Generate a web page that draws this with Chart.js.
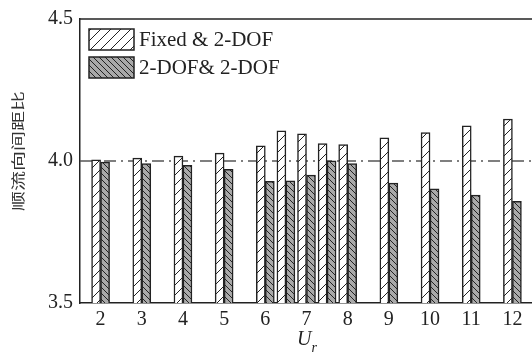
<!DOCTYPE html>
<html><head><meta charset="utf-8">
<script src="https://cdn.jsdelivr.net/npm/chart.js@4.4.0/dist/chart.umd.min.js"></script>
<style>
html,body{margin:0;padding:0;background:#fff;overflow:hidden;}
#wrap{width:540px;height:358px;position:relative;}
</style></head><body>
<div id="wrap"><canvas id="c" width="540" height="358"></canvas></div>
<script>
const ur = [2, 3, 4, 5, 6, 6.5, 7, 7.5, 8, 9, 10, 11, 12];
const fixedVals = [4.004, 4.010, 4.017, 4.028, 4.053, 4.106, 4.096, 4.061, 4.058, 4.082, 4.100, 4.124, 4.148];
const dofVals = [3.996, 3.991, 3.985, 3.971, 3.928, 3.930, 3.950, 4.001, 3.991, 3.922, 3.902, 3.880, 3.858];
const seriesLabels = ['Fixed & 2-DOF', '2-DOF& 2-DOF'];
const xTicks = [2, 3, 4, 5, 6, 7, 8, 9, 10, 11, 12];
const yTicks = [3.5, 4.0, 4.5];
const refLine = [4.0];
const xRange = [1.5, 12.5];
const yRange = [3.5, 4.5];
const yTitle = '顺流向间距比';
const xTitle = ['U', 'r'];

const canvas = document.getElementById('c');
const ctx = canvas.getContext('2d');

function hatch(size, bg, forward) {
  const c = document.createElement('canvas');
  c.width = size; c.height = size;
  const g = c.getContext('2d');
  g.fillStyle = bg; g.fillRect(0, 0, size, size);
  g.strokeStyle = '#222'; g.lineWidth = 1;
  g.beginPath();
  if (forward) {
    g.moveTo(0, size); g.lineTo(size, 0);
    g.moveTo(-1, 1); g.lineTo(1, -1);
    g.moveTo(size - 1, size + 1); g.lineTo(size + 1, size - 1);
  } else {
    g.moveTo(0, 0); g.lineTo(size, size);
    g.moveTo(size - 1, -1); g.lineTo(size + 1, 1);
    g.moveTo(-1, size - 1); g.lineTo(1, size + 1);
  }
  g.stroke();
  return ctx.createPattern(c, 'repeat');
}
const patWhite = hatch(10, '#ffffff', true);
const patGray = hatch(6, '#a9a9a9', false);

const serif = '"Liberation Serif", "Times New Roman", serif';

const framePlugin = {
  id: 'frame',
  afterDraw(chart) {
    const { ctx: c, chartArea: a } = chart;
    c.save();
    c.strokeStyle = '#222'; c.lineWidth = 1.5;
    c.beginPath(); c.moveTo(a.left, a.top); c.lineTo(a.right, a.top); c.stroke();
    // legend inside plot
    const ds = chart.data.datasets.filter(d => d.type === 'bar');
    ds.forEach((d, i) => {
      const x = a.left + 9, y = a.top + 10 + i * 28, w = 45, h = 21;
      c.fillStyle = d.backgroundColor; c.fillRect(x, y, w, h);
      c.strokeStyle = '#222'; c.lineWidth = 1.5; c.strokeRect(x, y, w, h);
      c.fillStyle = '#222'; c.font = '21px ' + serif;
      c.textBaseline = 'middle'; c.textAlign = 'left';
      c.fillText(d.label, x + w + 5, y + h / 2 + 1);
    });
    // y title
    c.save();
    c.translate(17.5, 151); c.rotate(-Math.PI / 2); c.scale(1, 0.68);
    c.font = '20px "Noto Sans CJK SC"'; c.textAlign = 'center'; c.textBaseline = 'middle';
    c.fillStyle = '#333';
    c.fillText(yTitle, 0, 0);
    c.restore();
    // x title
    const cx = (a.left + a.right) / 2;
    c.fillStyle = '#222'; c.textAlign = 'left'; c.textBaseline = 'alphabetic';
    c.font = 'italic 20px ' + serif;
    const uw = c.measureText(xTitle[0]).width;
    c.fillText(xTitle[0], cx - 9.5, 345);
    c.font = 'italic 14px ' + serif;
    c.fillText(xTitle[1], cx - 9.5 + uw, 352);
    c.restore();
  }
};

new Chart(ctx, {
  data: {
    datasets: [
      { type: 'bar', label: seriesLabels[0], data: ur.map((x, i) => ({ x, y: fixedVals[i] })),
        backgroundColor: patWhite, borderColor: '#222', borderWidth: 1.5, borderSkipped: false,
        barThickness: 9, order: 1 },
      { type: 'bar', label: seriesLabels[1], data: ur.map((x, i) => ({ x, y: dofVals[i] })),
        backgroundColor: patGray, borderColor: '#222', borderWidth: 1.5, borderSkipped: false,
        barThickness: 9, order: 1 },
      { type: 'line', label: 'ref', data: xRange.map(x => ({ x, y: refLine[0] })),
        borderColor: '#555', borderWidth: 1.5, borderDash: [12, 5, 2, 5], pointRadius: 0, order: 5 }
    ]
  },
  options: {
    responsive: false,
    animation: false,
    devicePixelRatio: 1,
    layout: { padding: { top: 12, right: 7, bottom: 0, left: 0 } },
    plugins: { legend: { display: false }, tooltip: { enabled: false } },
    scales: {
      x: {
        type: 'linear', min: xRange[0], max: xRange[1], offset: false,
        grid: { display: false, drawTicks: false, offset: false },
        border: { display: true, color: '#222', width: 1.5 },
        afterBuildTicks: s => { s.ticks = xTicks.map(v => ({ value: v })); },
        ticks: { color: '#222', font: { family: serif, size: 20 }, padding: 5, autoSkip: false, maxRotation: 0,
                 callback: v => String(v) },
        afterFit: s => { s.height = 55; }
      },
      y: {
        min: yRange[0], max: yRange[1],
        grid: { display: false, drawTicks: false },
        border: { display: true, color: '#222', width: 1.5 },
        afterBuildTicks: s => { s.ticks = yTicks.map(v => ({ value: v })); },
        ticks: { color: '#222', font: { family: serif, size: 20 }, padding: 7, callback: v => Number(v).toFixed(1) },
        afterFit: s => { s.width = 80; }
      }
    }
  },
  plugins: [framePlugin]
});
</script>
</body></html>
